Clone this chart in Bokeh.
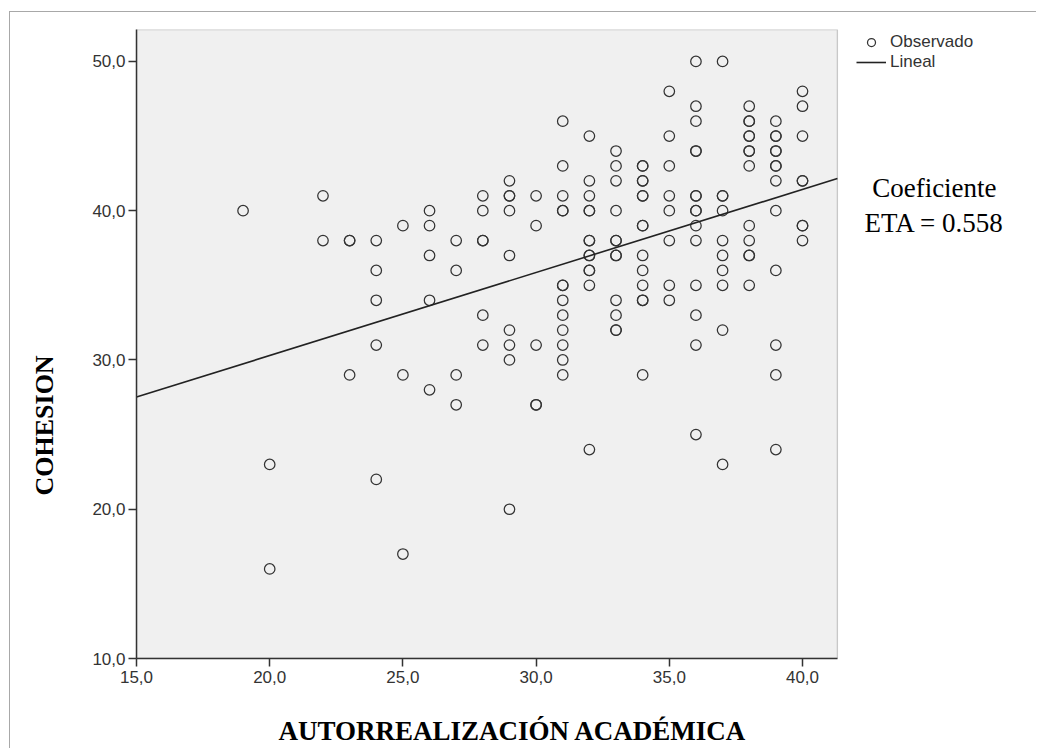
from bokeh.plotting import figure
from bokeh.models import FixedTicker, Legend, LegendItem, Label, BoxAnnotation, Title
from bokeh.embed import file_html
from bokeh.resources import INLINE

# ---- data (duplicated values = overplotted points) ----
autorrealizacion = (
    [19] + [20] * 2 + [22] * 2 + [23] * 3 + [24] * 5 + [25] * 3 + [26] * 5 + [27] * 4
    + [28] * 6 + [29] * 9 + [30] * 5 + [31] * 13 + [32] * 13 + [33] * 12 + [34] * 14
    + [35] * 8 + [36] * 15 + [37] * 10 + [38] * 13 + [39] * 13 + [40] * 8
)
cohesion = (
    [40]
    + [23, 16]
    + [41, 38]
    + [38, 38, 29]
    + [38, 36, 34, 31, 22]
    + [39, 29, 17]
    + [40, 39, 37, 34, 28]
    + [38, 36, 29, 27]
    + [41, 40, 38, 38, 33, 31]
    + [42, 41, 41, 40, 37, 32, 31, 30, 20]
    + [41, 39, 31, 27, 27]
    + [46, 43, 41, 40, 40, 35, 35, 34, 33, 32, 31, 30, 29]
    + [45, 42, 41, 40, 40, 38, 38, 37, 37, 36, 36, 35, 24]
    + [44, 43, 42, 40, 38, 38, 37, 37, 34, 33, 32, 32]
    + [43, 43, 42, 42, 41, 41, 39, 39, 37, 36, 35, 34, 34, 29]
    + [48, 45, 43, 41, 40, 38, 35, 34]
    + [50, 47, 46, 44, 44, 41, 41, 40, 40, 39, 38, 35, 33, 31, 25]
    + [50, 41, 41, 40, 38, 37, 36, 35, 32, 23]
    + [47, 46, 46, 45, 45, 44, 44, 43, 39, 38, 37, 37, 35]
    + [46, 45, 45, 44, 44, 43, 43, 42, 40, 36, 31, 29, 24]
    + [48, 47, 45, 42, 42, 39, 39, 38]
)
x_ticks = [15, 20, 25, 30, 35, 40]
x_tick_labels = ["15,0", "20,0", "25,0", "30,0", "35,0", "40,0"]
y_ticks = [10, 20, 30, 40, 50]
y_tick_labels = ["10,0", "20,0", "30,0", "40,0", "50,0"]
x_min, x_max = 15, 41.31
y_min, y_max = 10, 52.14
fit_intercept = 19.17
fit_slope = 0.5564
x_title = "AUTORREALIZACIÓN ACADÉMICA"
y_title = "COHESION"
note_lines = ["Coeficiente", "ETA = 0.558"]
legend_labels = ["Observado", "Lineal"]

W, H, L, T, B = 1036, 748, 136, 29, 90
# frame spans to the right edge; the grey plotting box is drawn as a box annotation
p = figure(width=W, height=H, x_range=(x_min, x_min + (W - L) / 26.64), y_range=(y_min, y_max),
           output_backend="svg", toolbar_location=None,
           min_border_left=L, min_border_right=0, min_border_top=T, min_border_bottom=B)
p.styles = {"background": "linear-gradient(#a8a8a8,#a8a8a8) 9px 11px / 1px calc(100% - 11px) no-repeat, "
                          "linear-gradient(#a8a8a8,#a8a8a8) 9px 11px / calc(100% - 9px) 1px no-repeat, white"}
p.background_fill_color = "white"
p.border_fill_alpha = 0
p.grid.visible = False
p.outline_line_color = None

p.add_layout(BoxAnnotation(left=x_min, right=x_max, bottom=y_min, top=y_max,
                           fill_color="#f0f0f0", fill_alpha=1.0,
                           line_color="#555555", line_width=1.3, level="underlay"))

for ax, ticks, labels in ((p.xaxis, x_ticks, x_tick_labels), (p.yaxis, y_ticks, y_tick_labels)):
    ax.ticker = FixedTicker(ticks=ticks)
    ax.major_label_overrides = {t: l for t, l in zip(ticks, labels)}
    ax.minor_tick_line_color = None
    ax.major_tick_out = 8
    ax.major_tick_in = 0
    ax.major_tick_line_color = "#333333"
    ax.major_tick_line_width = 1.5
    ax.axis_line_color = "#333333"
    ax.axis_line_width = 1.5
    ax.major_label_text_font = "Liberation Sans"
    ax.major_label_text_font_size = "17px"
    ax.major_label_text_color = "#333333"
    # blank spacer label: keeps room between tick labels and the titles
    ax.axis_label = " "
    ax.axis_label_text_font_size = "1px"

p.xaxis.bounds = (x_min, x_max)
p.xaxis.major_label_standoff = 4
p.yaxis.major_label_standoff = 3
p.xaxis.axis_label_standoff = 24
p.yaxis.axis_label_standoff = 27

p.add_layout(Title(text=x_title, align="left", offset=142, standoff=0,
                   text_font="Liberation Serif", text_font_size="27px",
                   text_font_style="bold", text_color="black"), "below")
p.add_layout(Title(text=y_title, align="left", offset=163, standoff=0,
                   text_font="Liberation Serif", text_font_size="26px",
                   text_font_style="bold", text_color="black"), "left")

sc = p.scatter(autorrealizacion, cohesion, marker="circle", size=10.5,
               fill_color=None, line_color="#333333", line_width=1.25)

fx = [x_min, x_max]
fy = [fit_intercept + fit_slope * v for v in fx]
ln = p.line(fx, fy, line_color="#222222", line_width=1.6)

legend = Legend(items=[LegendItem(label=legend_labels[0], renderers=[sc]),
                       LegendItem(label=legend_labels[1], renderers=[ln])],
                location=(720, 586), background_fill_alpha=0, border_line_color=None,
                padding=0, margin=0, spacing=0, glyph_width=30, glyph_height=20,
                label_height=20, label_standoff=4, label_text_font="Liberation Sans",
                label_text_font_size="17px", label_text_color="#333333")
p.add_layout(legend)

p.add_layout(Label(x=44.95, y=41.5, text=note_lines[0], text_align="center",
                   text_baseline="alphabetic", text_font="Liberation Serif",
                   text_font_size="27px", text_color="black"))
p.add_layout(Label(x=44.95, y=39.2, text=note_lines[1], text_align="center",
                   text_baseline="alphabetic", text_font="Liberation Serif",
                   text_font_size="27px", text_color="black"))

open("out.html", "w").write(file_html(p, INLINE))
